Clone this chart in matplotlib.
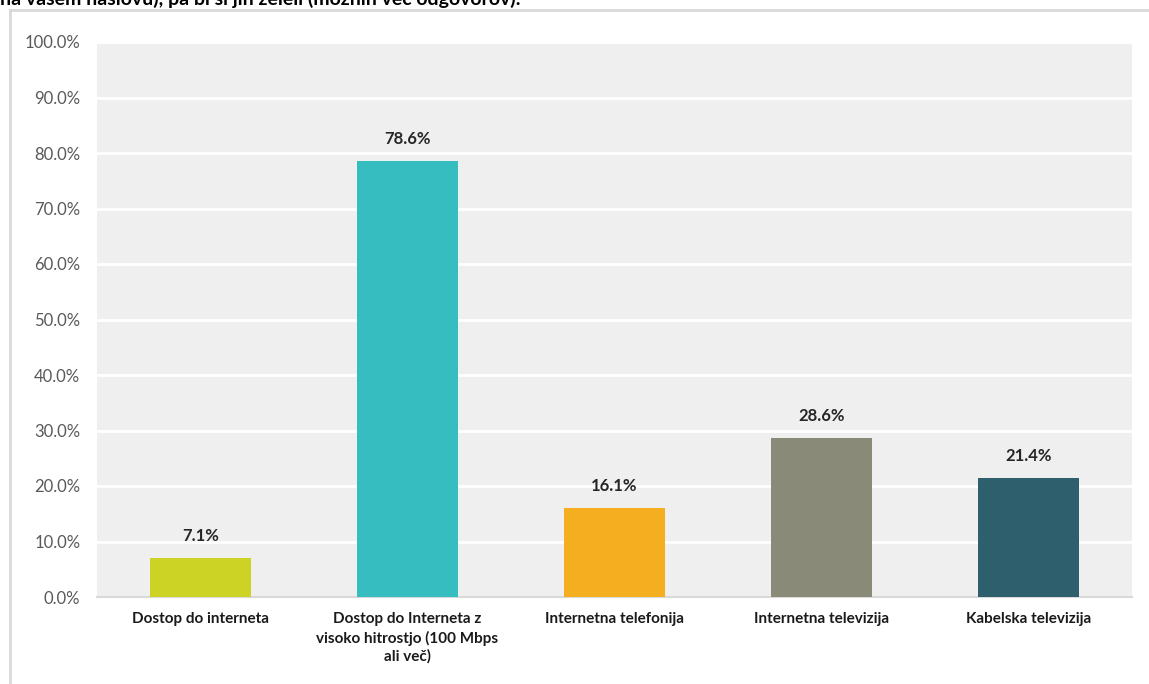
import matplotlib
matplotlib.use("Agg")
import matplotlib.pyplot as plt
from matplotlib.lines import Line2D
from matplotlib.ticker import FuncFormatter, MultipleLocator

plt.rcParams['font.family'] = ['Lato', 'DejaVu Sans']

categories = [
  "Dostop do interneta",
  "Dostop do Interneta z\nvisoko hitrostjo (100 Mbps\nali več)",
  "Internetna telefonija",
  "Internetna televizija",
  "Kabelska televizija",
]
values = [7.1, 78.6, 16.1, 28.6, 21.4]
colors = ["#cdd324", "#35bdbf", "#f5ae1f", "#8a8a78", "#2d5f6d"]
title = "na vašem naslovu), pa bi si jih želeli (možnih več odgovorov):"

W, H = 1149, 684
fig = plt.figure(figsize=(W / 100, H / 100), dpi=100)
fig.patch.set_facecolor("white")

def px(x0, y0, x1, y1):
  return [x0 / W, 1 - y1 / H, (x1 - x0) / W, (y1 - y0) / H]

ax = fig.add_axes(px(97, 42, 1132, 597))
ax.set_facecolor("#efefef")
x = range(len(categories))
bars = ax.bar(x, values, width=0.49, color=colors, zorder=3)
for b, v in zip(bars, values):
  ax.annotate(f"{v:.1f}%", (b.get_x() + b.get_width() / 2, v), xytext=(0, 10),
              textcoords="offset points", ha="center", va="bottom",
              fontsize=12, fontweight="bold", color="#262626")

ax.set_xlim(-0.5, len(categories) - 0.5)
ax.set_ylim(0, 100)
ax.yaxis.set_major_locator(MultipleLocator(10))
ax.yaxis.set_major_formatter(FuncFormatter(lambda v, _: f"{v:.1f}%"))
ax.grid(axis="y", color="white", lw=2, zorder=1)
ax.set_axisbelow(True)
for s in ["top", "right", "left"]:
  ax.spines[s].set_visible(False)
ax.spines["bottom"].set_color("#d9d9d9")
ax.spines["bottom"].set_linewidth(1.5)
ax.tick_params(axis="both", length=0)
ax.tick_params(axis="y", labelsize=12, labelcolor="#595959", pad=12)
ax.set_xticks(list(x))
ax.set_xticklabels(categories, fontsize=11, fontweight="bold", color="#1a1a1a", linespacing=1.35)
ax.tick_params(axis="x", pad=11)

# outer chart frame
fig.add_artist(Line2D([10 / W, 10 / W], [0, 1 - 10 / H], color="#d9d9d9", lw=2))
fig.add_artist(Line2D([10 / W, 1], [1 - 10 / H, 1 - 10 / H], color="#d9d9d9", lw=2))

fig.text(0, 1 - 5 / H, title, ha="left", va="baseline", fontsize=14, fontweight="bold", color="black")

fig.savefig("out.png", dpi=100)
